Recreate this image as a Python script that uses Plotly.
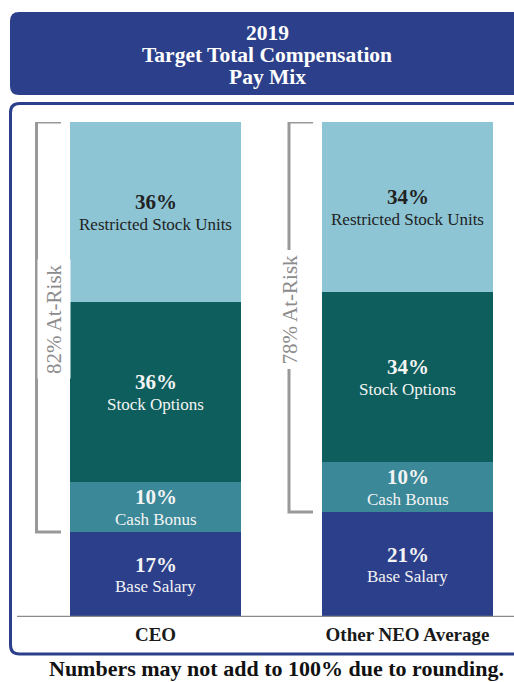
import plotly.graph_objects as go

W, H = 514, 682

categories = ["CEO", "Other NEO Average"]
components = ["Base Salary", "Cash Bonus", "Stock Options", "Restricted Stock Units"]
base_salary = [17, 21]
cash_bonus = [10, 10]
stock_options = [36, 34]
restricted_stock_units = [36, 34]
at_risk = [82, 78]
title_lines = ["2019", "Target Total Compensation", "Pay Mix"]
footnote = "Numbers may not add to 100% due to rounding."

series = [base_salary, cash_bonus, stock_options, restricted_stock_units]
colors = ["#2C3F8B", "#3A8898", "#0D5E5C", "#8DC5D5"]
text_colors = ["#F4F4F4", "#F4F4F4", "#F4F4F4", "#222222"]
NAVY = "#2C3F8B"
GRAY = "#8C8C8C"
FONT = "Liberation Serif, Times New Roman, serif"


def px(x):
    return x / W


def py(y):
    return 1 - y / H


fig = go.Figure()
for name, vals, col in zip(components, series, colors):
    fig.add_trace(go.Bar(
        x=categories, y=vals, name=name, width=0.679,
        marker=dict(color=col, line=dict(width=0)),
        hovertemplate="%{x}<br>" + name + ": %{y}%<extra></extra>",
    ))

annotations = []
shapes = []

# segment labels
for ci, cat in enumerate(categories):
    cum = 0
    for si, (name, vals) in enumerate(zip(components, series)):
        v = vals[ci]
        mid = cum + v / 2
        annotations.append(dict(
            x=cat, y=mid, xref="x", yref="y", text=f"<b>{v}%</b>", showarrow=False,
            yshift=10, font=dict(family=FONT, size=21, color=text_colors[si])))
        annotations.append(dict(
            x=cat, y=mid, xref="x", yref="y", text=name, showarrow=False,
            yshift=-12, font=dict(family=FONT, size=17, color=text_colors[si])))
        cum += v

# at-risk brackets
bracket_x = [(36.5, 61), (289, 313)]
for ci, cat in enumerate(categories):
    total = sum(s[ci] for s in series)
    bottom = base_salary[ci]
    xv, xh = bracket_x[ci]
    shapes.append(dict(
        type="path", xref="paper", yref="y",
        path=f"M {px(xh)},{total} L {px(xv)},{total} L {px(xv)},{bottom} L {px(xh)},{bottom}",
        line=dict(color="#999999", width=3), layer="below"))
    annotations.append(dict(
        x=px(xv), y=(total + bottom) / 2 + 1.5, xref="paper", yref="y",
        text=f"{at_risk[ci]}% At-Risk", textangle=-90, showarrow=False,
        bgcolor="white", borderpad=4,
        font=dict(family=FONT, size=21, color=GRAY)))


def rounded_rect(x0, y0, x1, y1, r):
    rx, ry = r / W, r / H
    X0, X1 = px(x0), px(x1)
    Y0, Y1 = py(y0), py(y1)
    return (f"M {X0 + rx},{Y0} L {X1 - rx},{Y0} Q {X1},{Y0} {X1},{Y0 - ry} "
            f"L {X1},{Y1 + ry} Q {X1},{Y1} {X1 - rx},{Y1} L {X0 + rx},{Y1} "
            f"Q {X0},{Y1} {X0},{Y1 + ry} L {X0},{Y0 - ry} Q {X0},{Y0} {X0 + rx},{Y0} Z")


# header box
shapes.append(dict(type="path", xref="paper", yref="paper",
                   path=rounded_rect(10, 12, 530, 95, 9),
                   fillcolor=NAVY, line=dict(width=0), layer="below"))
# content box
shapes.append(dict(type="path", xref="paper", yref="paper",
                   path=rounded_rect(10.5, 103.5, 530, 654, 9),
                   fillcolor="rgba(0,0,0,0)", line=dict(color=NAVY, width=3), layer="below"))
# baseline
shapes.append(dict(type="line", xref="paper", yref="y", x0=px(17), x1=px(530), y0=0, y1=0,
                   line=dict(color="#8A8A8A", width=2.5), layer="above"))

for i, t in enumerate(title_lines):
    annotations.append(dict(
        x=px(267), y=py(33 + 22 * i), xref="paper", yref="paper", text=f"<b>{t}</b>",
        xanchor="center", yanchor="middle",
        showarrow=False, font=dict(family=FONT, size=21.5, color="white")))

annotations.append(dict(
    x=px(276), y=py(668), xref="paper", yref="paper", text=f"<b>{footnote}</b>",
    xanchor="center", yanchor="middle",
    showarrow=False, font=dict(family=FONT, size=22, color="#111111")))

cx0 = 155.5
step = 252
fig.update_layout(
    width=W, height=H, margin=dict(l=0, r=0, t=0, b=0),
    paper_bgcolor="white", plot_bgcolor="rgba(0,0,0,0)",
    barmode="stack", bargap=0, showlegend=False,
    xaxis=dict(type="category", domain=[0, 1],
               range=[-cx0 / step, (W - cx0) / step],
               showgrid=False, zeroline=False, showline=False, ticks="",
               ticklabelstandoff=4,
               tickfont=dict(family=FONT, size=19, color="#1A1A1A", weight="bold"),
               fixedrange=True),
    yaxis=dict(range=[0, 99], domain=[py(617), py(122)], visible=False, fixedrange=True),
    annotations=annotations, shapes=shapes,
)

fig.write_html(
    "out.html",
    config={"displayModeBar": False},
    post_script="document.body.style.margin='0';document.body.style.overflow='hidden';",
)
